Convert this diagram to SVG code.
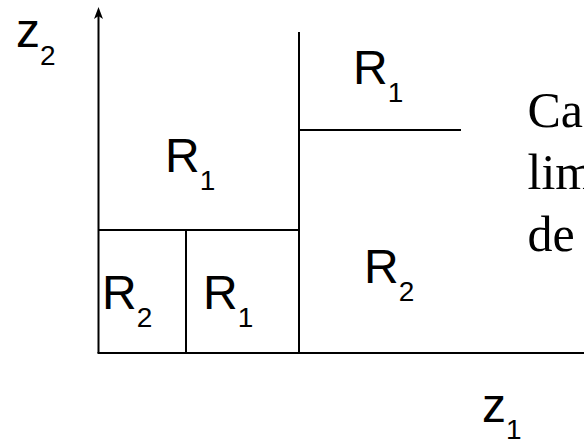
<svg xmlns="http://www.w3.org/2000/svg" width="584" height="442" viewBox="0 0 584 442">
<style>
.ln{stroke:#000;stroke-width:2;fill:none}
.lbl{font-family:"Liberation Sans",Arial,sans-serif;font-size:48px;fill:#000}
.sub{font-size:28px}
.tx{font-family:"Liberation Serif","Times New Roman",serif;font-size:50px;fill:#000}
</style>
<rect width="584" height="442" fill="#fff"/>
<g id="connectors">
<line class="ln" x1="98.5" y1="353" x2="98.5" y2="14"/>
<path d="M98.5 7 L103 19 L98.5 16 L94 19 Z" fill="#000"/>
<line class="ln" x1="97.5" y1="353" x2="584" y2="353"/>
<line class="ln" x1="299" y1="32" x2="299" y2="353"/>
<line class="ln" x1="299" y1="130" x2="461" y2="130"/>
<line class="ln" x1="98" y1="230" x2="299" y2="230"/>
<line class="ln" x1="186" y1="230" x2="186" y2="353"/>
</g>
<g id="axis-z2"><text class="lbl" x="16" y="47">z<tspan class="sub" dy="18">2</tspan></text></g>
<g id="axis-z1"><text class="lbl" x="482" y="422">z<tspan class="sub" dy="17">1</tspan></text></g>
<g id="region-r1-top-left"><text class="lbl" x="165" y="172">R<tspan class="sub" dy="18">1</tspan></text></g>
<g id="region-r1-top-right"><text class="lbl" x="353" y="84">R<tspan class="sub" dy="18">1</tspan></text></g>
<g id="region-r2-bottom-left"><text class="lbl" x="102" y="309">R<tspan class="sub" dy="18">2</tspan></text></g>
<g id="region-r1-bottom"><text class="lbl" x="203" y="309">R<tspan class="sub" dy="18">1</tspan></text></g>
<g id="region-r2-right"><text class="lbl" x="364" y="283">R<tspan class="sub" dy="18">2</tspan></text></g>
<g id="caption">
<text class="tx" x="527.5" y="127">Ca</text>
<text class="tx" x="527.5" y="189">lim</text>
<text class="tx" x="527.5" y="251">de</text>
</g>
</svg>
